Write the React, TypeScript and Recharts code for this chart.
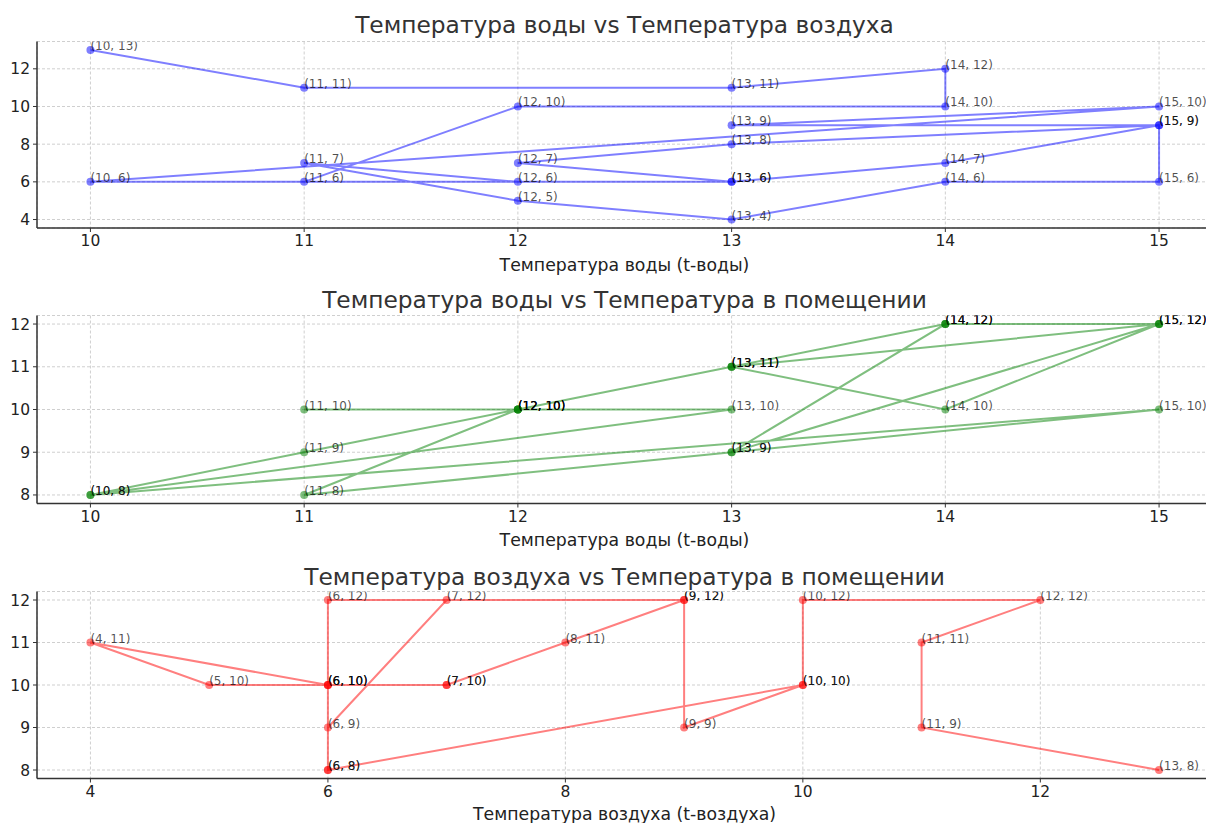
import React from "react";
import { LineChart, Line, XAxis, YAxis, CartesianGrid } from "recharts";

// one row per measurement, plotted pairwise in the three panels
const waterTemp = [10, 11, 13, 14, 14, 12, 11, 13, 14, 15, 13, 15, 10, 13, 12, 13, 15, 15, 14, 13, 12, 11, 12];
const airTemp = [13, 11, 11, 12, 10, 10, 6, 6, 7, 9, 9, 10, 6, 6, 7, 8, 9, 6, 6, 4, 5, 7, 6];
const roomTemp = [8, 9, 11, 12, 12, 10, 8, 9, 12, 12, 9, 10, 8, 10, 10, 11, 12, 12, 10, 11, 10, 10, 10];

const waterTicks = [10, 11, 12, 13, 14, 15];
const airTicksY = [4, 6, 8, 10, 12];
const airTicksX = [4, 6, 8, 10, 12];
const roomTicks = [8, 9, 10, 11, 12];

const FONT = "'DejaVu Sans', sans-serif";

const pairs = (xs: number[], ys: number[]) =>
  xs.map((x, i) => ({ x, y: ys[i], label: `(${x}, ${ys[i]})` }));

const makeDot = (color: string) => (props: any) => {
  const { cx, cy, payload, index } = props;
  if (cx == null || cy == null) return <g key={`d-${index}`} />;
  return (
    <g key={`d-${index}`}>
      <circle cx={cx} cy={cy} r={4} fill={color} fillOpacity={0.5} />
      <text
        x={cx}
        y={cy}
        fontSize={12}
        fontFamily={FONT}
        fill="#000"
        fillOpacity={0.7}
      >
        {payload.label}
      </text>
    </g>
  );
};

type PanelProps = {
  top: number;
  height: number;
  plotTop: number;
  plotBottom: number;
  data: { x: number; y: number; label: string }[];
  xDomain: [number, number];
  yDomain: [number, number];
  xTicks: number[];
  yTicks: number[];
  color: string;
  title: string;
  titleY: number;
  xLabel: string;
  xLabelY: number;
};

const Panel = (p: PanelProps) => {
  const axisStyle = { stroke: "#333", strokeWidth: 1.5 };
  const tickStyle = { fontSize: 15.5, fill: "#222", fontFamily: FONT };
  return (
    <>
      <div
        style={{
          position: "absolute",
          left: 37,
          width: 1175,
          top: p.titleY - 15,
          height: 30,
          lineHeight: "30px",
          textAlign: "center",
          fontFamily: FONT,
          fontSize: 23.3,
          color: "#333",
          whiteSpace: "nowrap",
        }}
      >
        {p.title}
      </div>
      <div style={{ position: "absolute", left: 0, top: p.top }}>
        <LineChart
          width={1230}
          height={p.height}
          data={p.data}
          margin={{ top: p.plotTop - p.top, right: 17.5, left: 0, bottom: 0 }}
        >
          <CartesianGrid stroke="#cfcfcf" strokeDasharray="3 2" />
          <XAxis
            type="number"
            dataKey="x"
            domain={p.xDomain}
            ticks={p.xTicks}
            allowDataOverflow
            interval={0}
            height={p.top + p.height - p.plotBottom}
            tick={tickStyle}
            tickSize={4}
            tickMargin={3}
            tickLine={{ stroke: "#333" }}
            axisLine={axisStyle}
          />
          <YAxis
            type="number"
            dataKey="y"
            domain={p.yDomain}
            ticks={p.yTicks}
            allowDataOverflow
            interval={0}
            width={37}
            tick={tickStyle}
            tickSize={4}
            tickMargin={3}
            tickLine={{ stroke: "#333" }}
            axisLine={axisStyle}
          />
          <Line
            type="linear"
            dataKey="y"
            stroke={p.color}
            strokeOpacity={0.5}
            strokeWidth={2}
            dot={makeDot(p.color)}
            activeDot={false}
            isAnimationActive={false}
          />
        </LineChart>
      </div>
      <div
        style={{
          position: "absolute",
          left: 37,
          width: 1175,
          top: p.xLabelY - 12,
          height: 24,
          lineHeight: "24px",
          textAlign: "center",
          fontFamily: FONT,
          fontSize: 17.3,
          color: "#222",
          whiteSpace: "nowrap",
        }}
      >
        {p.xLabel}
      </div>
    </>
  );
};

export default function App() {
  return (
    <div
      style={{
        position: "absolute",
        left: 0,
        top: 0,
        width: 1206,
        height: 823,
        overflow: "hidden",
        background: "#fff",
      }}
    >
      <Panel
        top={0}
        height={260}
        plotTop={41.5}
        plotBottom={228}
        data={pairs(waterTemp, airTemp)}
        xDomain={[9.75, 15.25]}
        yDomain={[3.55, 13.45]}
        xTicks={waterTicks}
        yTicks={airTicksY}
        color="#0000ff"
        title="Температура воды vs Температура воздуха"
        titleY={25}
        xLabel="Температура воды (t-воды)"
        xLabelY={265}
      />
      <Panel
        top={280}
        height={255}
        plotTop={315.5}
        plotBottom={503.5}
        data={pairs(waterTemp, roomTemp)}
        xDomain={[9.75, 15.25]}
        yDomain={[7.8, 12.2]}
        xTicks={waterTicks}
        yTicks={roomTicks}
        color="#008000"
        title="Температура воды vs Температура в помещении"
        titleY={300}
        xLabel="Температура воды (t-воды)"
        xLabelY={540}
      />
      <Panel
        top={560}
        height={250}
        plotTop={591.5}
        plotBottom={778.5}
        data={pairs(airTemp, roomTemp)}
        xDomain={[3.55, 13.45]}
        yDomain={[7.8, 12.2]}
        xTicks={airTicksX}
        yTicks={roomTicks}
        color="#ff0000"
        title="Температура воздуха vs Температура в помещении"
        titleY={577}
        xLabel="Температура воздуха (t-воздуха)"
        xLabelY={814}
      />
    </div>
  );
}
